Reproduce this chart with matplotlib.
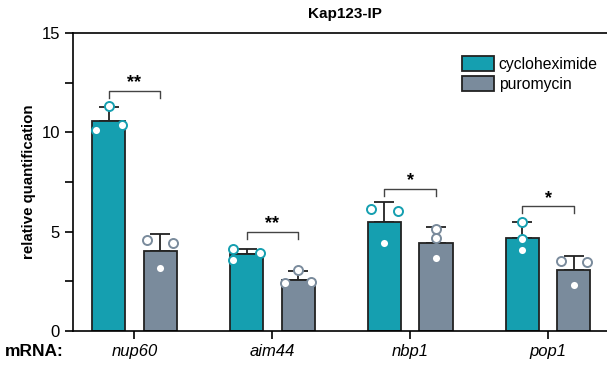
import numpy as np
import matplotlib.pyplot as plt

plt.rcParams['font.family'] = ['Liberation Sans', 'DejaVu Sans']

genes = ['nup60', 'aim44', 'nbp1', 'pop1']
series = ['cycloheximide', 'puromycin']
colors = ['#159fb0', '#7a8b9c']

# bar means
cyclo_mean = [10.57, 3.86, 5.50, 4.68]
puro_mean = [4.03, 2.58, 4.45, 3.07]
# upper error (top of bar whisker)
cyclo_err_top = [11.30, 4.12, 6.49, 5.49]
puro_err_top = [4.88, 3.03, 5.23, 3.77]

# replicate points (values) and their horizontal jitter within the bar
cyclo_pts = [[10.10, 11.34, 10.37], [4.13, 3.57, 3.94], [6.12, 4.45, 6.04], [5.49, 4.63, 4.06]]
cyclo_jit = [[-1, 0, 1], [-1, -1, 1], [-1, 0, 1], [0, 0, 0]]
puro_pts = [[4.60, 3.17, 4.45], [2.40, 3.09, 2.45], [5.15, 4.66, 3.66], [3.50, 2.33, 3.47]]
puro_jit = [[-1, 0, 1], [-1, 0, 1], [0, 0, 0], [-1, 0, 1]]

# significance brackets
sig_y = [12.08, 5.0, 7.15, 6.27]
sig_txt = ['**', '**', '*', '*']

fig = plt.figure(figsize=(6.07, 3.65), dpi=100)
ax = fig.add_axes([73 / 607, 34 / 365, 544 / 607, 298 / 365])

x = np.arange(len(genes))
w = 0.24
off = 0.187
jit = 0.095

groups = [(cyclo_mean, cyclo_err_top, cyclo_pts, cyclo_jit, -off),
          (puro_mean, puro_err_top, puro_pts, puro_jit, off)]
for i, (mean, top, pts, jt, o) in enumerate(groups):
    xs = x + o
    ax.bar(xs, mean, width=w, color=colors[i], edgecolor='#222222',
           linewidth=1.3, label=series[i], zorder=2)
    up = np.array(top) - np.array(mean)
    ax.errorbar(xs, mean, yerr=[np.zeros_like(up), up], fmt='none',
                ecolor='#222222', elinewidth=1.3, capsize=7, capthick=1.3, zorder=1)
    for k in range(len(genes)):
        px = xs[k] + np.array(jt[k]) * jit
        ax.plot(px, pts[k], 'o', ms=6.5, mfc='white', mec=colors[i], mew=1.4, zorder=3)

for k in range(len(genes)):
    x0, x1 = x[k] - off, x[k] + off
    y = sig_y[k]
    ax.plot([x0, x0, x1, x1], [y - 0.35, y, y, y - 0.35], color='#444444', lw=1.0, zorder=3)
    ax.text(x[k], y + 0.4, sig_txt[k], ha='center', va='center', fontsize=13, fontweight='bold')

ax.set_xlim(-0.446, 3.5)
ax.set_ylim(0, 15)
ax.set_yticks([0, 5, 10, 15])
ax.set_yticks([2.5, 7.5, 12.5], minor=True)
ax.set_xticks(x)
ax.set_xticklabels(genes, fontstyle='italic', fontsize=12)
ax.tick_params(axis='y', labelsize=12, length=6, width=1.2)
ax.tick_params(axis='y', which='minor', length=6, width=1.2)
ax.tick_params(axis='x', length=6, width=1.2)
for s in ax.spines.values():
    s.set_linewidth(1.2)
ax.set_ylabel('relative quantification', fontsize=10.8, fontweight='bold')
ax.set_title('Kap123-IP', fontsize=11, fontweight='bold', pad=11)
fig.text(5 / 607, 1 - 352 / 365, 'mRNA:', fontsize=12.5, fontweight='bold', va='center')

ax.legend(loc='upper left', bbox_to_anchor=(0.69, 0.97), frameon=False, fontsize=11.3,
          handlelength=2.0, handleheight=1.1, handletextpad=0.3, labelspacing=0.25)

fig.savefig('out.png', dpi=100)
